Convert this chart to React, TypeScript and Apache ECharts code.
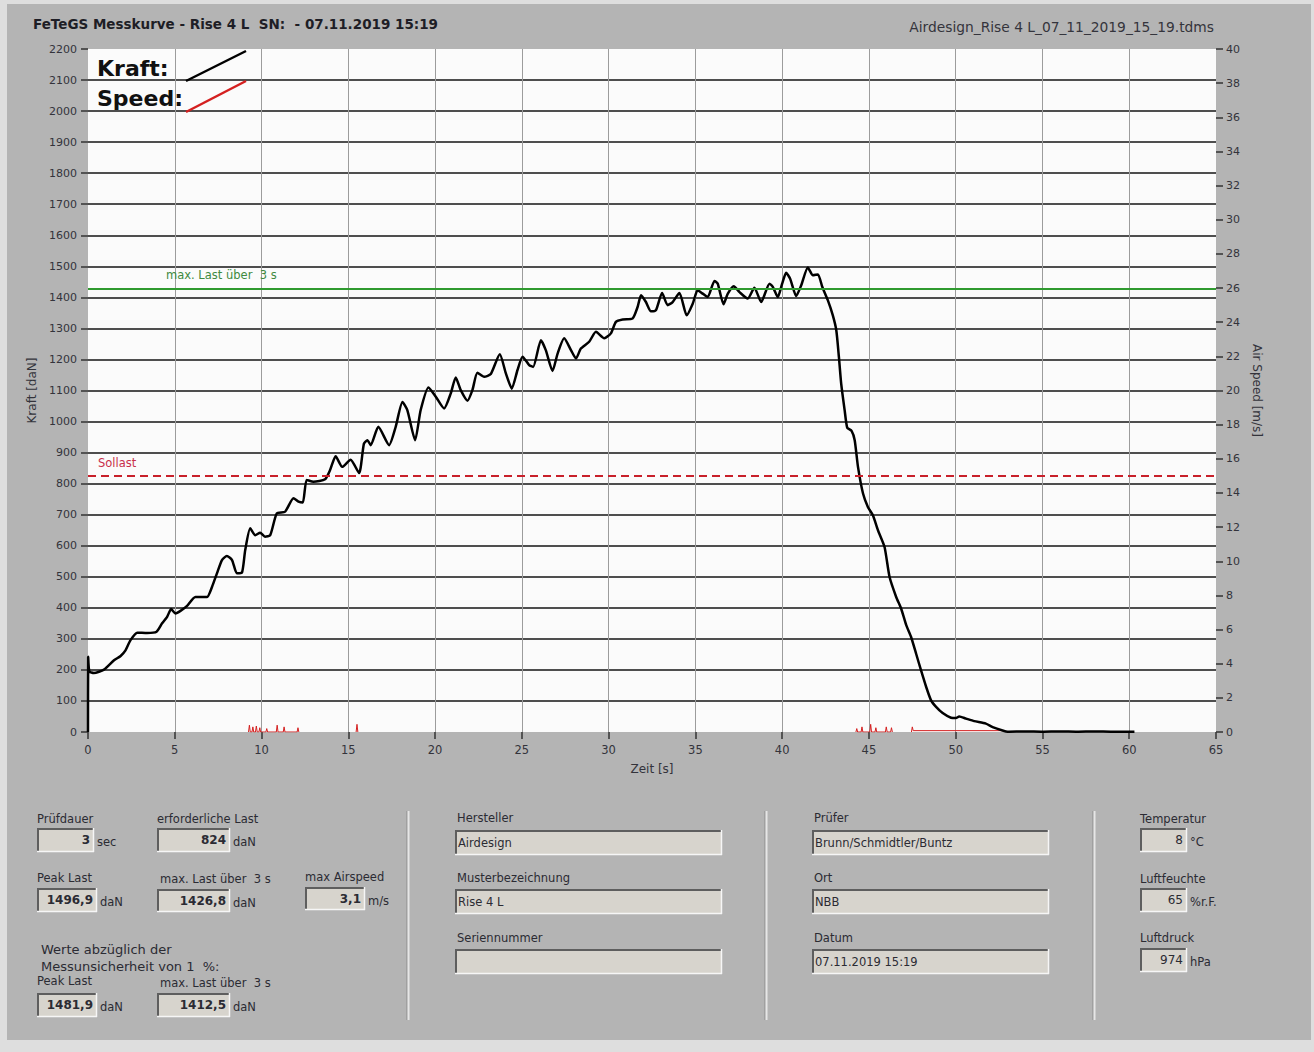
import React, { useEffect, useRef } from "react";
import * as echarts from "echarts";

// ---- Data ----
const kraftTime = [
  0, 0.01, 0.08, 0.34, 0.92, 1.5, 1.88, 2.16, 2.45, 2.84, 3.41, 3.95, 4.27, 4.56, 4.79, 5.04, 5.33, 5.71,
  6.19, 6.86, 7.15, 7.43, 7.72, 8.0, 8.3, 8.58, 8.87, 9.06, 9.35, 9.64, 9.92, 10.2, 10.5, 10.88, 11.36,
  11.84, 12.13, 12.38, 12.6, 12.99, 13.66, 13.95, 14.27, 14.65, 15.13, 15.62, 15.9, 16.1, 16.29, 16.73,
  17.35, 17.73, 18.12, 18.4, 18.85, 19.17, 19.62, 20.04, 20.52, 20.9, 21.19, 21.48, 21.87, 22.15, 22.44,
  22.83, 23.21, 23.73, 24.08, 24.42, 24.75, 25.04, 25.42, 25.65, 26.1, 26.38, 26.77, 27.06, 27.44, 27.83,
  28.12, 28.4, 28.88, 29.27, 29.75, 30.13, 30.42, 30.81, 31.38, 31.67, 31.87, 32.15, 32.44, 32.73, 33.08,
  33.4, 33.69, 34.08, 34.5, 34.85, 35.13, 35.42, 35.71, 36.1, 36.29, 36.62, 36.87, 37.21, 37.54, 38.02,
  38.4, 38.79, 39.27, 39.46, 39.75, 40.0, 40.23, 40.46, 40.81, 41.1, 41.48, 41.77, 42.06, 42.31, 42.63,
  42.92, 43.12, 43.27, 43.4, 43.6, 43.75, 44.0, 44.18, 44.37, 44.66, 44.94, 45.23, 45.52, 45.9, 46.19,
  46.57, 46.86, 47.15, 47.43, 47.72, 48.0, 48.3, 48.58, 48.87, 49.25, 49.73, 50.02, 50.2, 50.6, 51.07,
  51.74, 52.13, 52.7, 53.0, 54.0, 55.0, 56.0, 57.0, 58.0, 59.0, 60.3,
];
const kraftValue = [
  0, 242, 195, 190, 201, 231, 245, 263, 296, 320, 319, 323, 350, 371, 396, 382, 390, 406,
  435, 435, 468, 511, 554, 567, 554, 511, 513, 586, 656, 634, 642, 629, 634, 704, 710,
  753, 742, 739, 812, 806, 814, 844, 888, 854, 877, 834, 929, 940, 924, 983,
  924, 983, 1063, 1037, 940, 1037, 1110, 1080, 1042, 1090, 1142, 1101, 1067, 1101, 1157,
  1144, 1153, 1217, 1155, 1106, 1166, 1209, 1182, 1176, 1262, 1230, 1163, 1219, 1268, 1230,
  1203, 1235, 1257, 1289, 1268, 1284, 1321, 1329, 1332, 1369, 1407, 1385, 1355, 1359, 1414,
  1375, 1385, 1414, 1342, 1380, 1423, 1412, 1401, 1453, 1444, 1378, 1412, 1436, 1417, 1396,
  1431, 1385, 1444, 1434, 1401, 1444, 1479, 1460, 1404, 1439, 1496, 1471, 1474, 1434, 1391,
  1342, 1294, 1208, 1123, 1037, 980, 970, 940, 854, 768, 725, 698, 650, 596, 499,
  435, 397, 344, 306, 252, 199, 145, 102, 81, 61, 46, 45, 50, 43, 35,
  27, 16, 5, 1, 2, 1, 2, 1, 2, 1, 1,
];

// Air speed: only small spikes near zero; null = no trace drawn
const speedTime = [
  9.25, 9.3, 9.35, 9.45, 9.5, 9.55, 9.65, 9.7, 9.75, 9.85, 9.9, 9.95, 10.25, 10.3, 10.35, 10.85, 10.9,
  10.95, 11.25, 11.3, 11.35, 12.05, 12.1, 12.15, 12.2, 15.45, 15.5, 15.55, 15.6, 44.25, 44.3, 44.35,
  44.55, 44.6, 44.65, 45.05, 45.1, 45.15, 45.35, 45.4, 45.45, 45.95, 46.0, 46.05, 46.25, 46.3, 46.35,
  46.4, 47.45, 47.5, 47.55, 52.7, 52.75,
];
const speedValue = [
  0, 0.4, 0, 0, 0.3, 0, 0, 0.35, 0, 0, 0.25, 0, 0, 0.2, 0, 0, 0.4,
  0, 0, 0.3, 0, 0, 0.25, 0, null, 0, 0.45, 0, null, 0, 0.2, 0,
  0, 0.3, 0, 0, 0.45, 0, 0, 0.25, 0, 0, 0.3, 0, 0, 0.25, 0,
  null, 0, 0.3, 0.08, 0.08, null,
];

const sollLast = 824;
const maxLast3s = 1426.8;

const kraftTicks = { min: 0, max: 2200, interval: 100 };
const speedTicks = { min: 0, max: 40, interval: 2 };
const timeTicks = { min: 0, max: 65, interval: 5 };

const titleText = "FeTeGS Messkurve - Rise 4 L  SN:  - 07.11.2019 15:19";
const fileText = "Airdesign_Rise 4 L_07_11_2019_15_19.tdms";

const FONT = '"DejaVu Sans"';
const TXT = "#2b2b33";

function txt(x: number, y: number, text: string, size = 11.5, opts: any = {}) {
  return {
    type: "text",
    x,
    y,
    silent: true,
    style: {
      text,
      fill: opts.fill || TXT,
      font: `${opts.bold ? "bold " : ""}${size}px ${FONT}`,
      textAlign: opts.align || "left",
      textVerticalAlign: "middle",
    },
  };
}

function box(x: number, y: number, w: number, h: number) {
  return {
    type: "group",
    silent: true,
    children: [
      { type: "rect", shape: { x, y, width: w, height: h }, style: { fill: "#d7d4cd" } },
      { type: "line", shape: { x1: x, y1: y + 1, x2: x + w, y2: y + 1 }, style: { stroke: "#5e5e5e", lineWidth: 2 } },
      { type: "line", shape: { x1: x + 1, y1: y, x2: x + 1, y2: y + h }, style: { stroke: "#5e5e5e", lineWidth: 2 } },
      { type: "line", shape: { x1: x, y1: y + h - 0.5, x2: x + w, y2: y + h - 0.5 }, style: { stroke: "#f6f6f6", lineWidth: 1.5 } },
      { type: "line", shape: { x1: x + w - 0.5, y1: y, x2: x + w - 0.5, y2: y + h }, style: { stroke: "#f6f6f6", lineWidth: 1.5 } },
    ],
  };
}

function sep(x: number) {
  return {
    type: "group",
    silent: true,
    children: [
      { type: "line", shape: { x1: x - 1, y1: 811, x2: x - 1, y2: 1020 }, style: { stroke: "#8c8c8c", lineWidth: 1 } },
      { type: "line", shape: { x1: x + 0.5, y1: 811, x2: x + 0.5, y2: 1020 }, style: { stroke: "#e6e6e6", lineWidth: 2 } },
    ],
  };
}

function numField(label: string, lx: number, ly: number, bx: number, by: number, bw: number, bh: number, value: string, unit: string, bold: boolean) {
  return [
    txt(lx, ly, label),
    box(bx, by, bw, bh),
    txt(bx + bw - 4, by + bh / 2, value, 12, { bold, align: "right" }),
    txt(bx + bw + 3, by + bh / 2 + 2, unit, 11.5),
  ];
}

function textField(label: string, x: number, ly: number, by: number, w: number, value: string) {
  return [txt(x + 2, ly, label), box(x, by, w, 25), txt(x + 3, by + 13, value, 11.5)];
}

export default function App() {
  const ref = useRef<HTMLDivElement>(null);

  useEffect(() => {
    if (!ref.current) return;
    const chart = echarts.init(ref.current, null, { renderer: "svg" });

    const kraftData = kraftTime.map((t, i) => [t, kraftValue[i]]);
    const speedData = speedTime.map((t, i) => [t, speedValue[i] === null ? "-" : speedValue[i]]);

    const graphic: any[] = [
      { type: "rect", z: -10, silent: true, shape: { x: 7, y: 4, width: 1304, height: 1036 }, style: { fill: "#b4b4b4" } },
      txt(33, 24, titleText, 13.5, { bold: true, fill: "#1e1e26" }),
      txt(1214, 27, fileText, 13.8, { align: "right", fill: "#34343c" }),
      // legend
      txt(97, 68, "Kraft:", 22, { bold: true, fill: "#111" }),
      txt(97, 98, "Speed:", 22, { bold: true, fill: "#111" }),
      { type: "line", silent: true, z: 10, shape: { x1: 186, y1: 81, x2: 246, y2: 51 }, style: { stroke: "#000", lineWidth: 2.5 } },
      { type: "line", silent: true, z: 10, shape: { x1: 186, y1: 112, x2: 246, y2: 81 }, style: { stroke: "#d42020", lineWidth: 2.5 } },
      sep(408),
      sep(766),
      sep(1094),
      ...numField("Prüfdauer", 37, 819, 37, 828, 57, 24, "3", "sec", true),
      ...numField("erforderliche Last", 157, 819, 157, 828, 73, 24, "824", "daN", true),
      ...numField("Peak Last", 37, 878, 37, 888, 60, 24, "1496,9", "daN", true),
      ...numField("max. Last über  3 s", 160, 879, 157, 889, 73, 23, "1426,8", "daN", true),
      ...numField("max Airspeed", 305, 877, 305, 887, 60, 23, "3,1", "m/s", true),
      txt(41, 949, "Werte abzüglich der", 13),
      txt(41, 966, "Messunsicherheit von 1  %:", 13),
      ...numField("Peak Last", 37, 981, 37, 993, 60, 24, "1481,9", "daN", true),
      ...numField("max. Last über  3 s", 160, 983, 157, 993, 73, 24, "1412,5", "daN", true),
      ...textField("Hersteller", 455, 818, 830, 267, "Airdesign"),
      ...textField("Musterbezeichnung", 455, 878, 889, 267, "Rise 4 L"),
      ...textField("Seriennummer", 455, 938, 949, 267, ""),
      ...textField("Prüfer", 812, 818, 830, 237, "Brunn/Schmidtler/Buntz"),
      ...textField("Ort", 812, 878, 889, 237, "NBB"),
      ...textField("Datum", 812, 938, 949, 237, "07.11.2019 15:19"),
      ...numField("Temperatur", 1140, 819, 1140, 828, 47, 24, "8", "°C", false),
      ...numField("Luftfeuchte", 1140, 879, 1140, 888, 47, 24, "65", "%r.F.", false),
      ...numField("Luftdruck", 1140, 938, 1140, 948, 47, 24, "974", "hPa", false),
    ];

    const axisText = { color: "#33333b", fontFamily: FONT, fontSize: 11 };
    const plain = (v: number) => String(v);

    chart.setOption({
      animation: false,
      backgroundColor: "#dedede",
      textStyle: { fontFamily: FONT },
      graphic,
      grid: {
        left: 88,
        right: 98,
        top: 49,
        bottom: 320,
        show: true,
        backgroundColor: "#fbfbfb",
        borderWidth: 0,
      },
      xAxis: {
        type: "value",
        ...timeTicks,
        name: "Zeit [s]",
        nameLocation: "middle",
        nameGap: 31,
        nameTextStyle: { ...axisText, fontSize: 12 },
        axisLine: { show: false },
        axisTick: { show: true, length: 7, lineStyle: { color: "#333", width: 1.5 } },
        axisLabel: { ...axisText, fontSize: 11.5, margin: 12, formatter: plain },
        splitLine: { show: true, showMinLine: false, showMaxLine: false, lineStyle: { color: "#9c9c9c", width: 1 } },
      },
      yAxis: [
        {
          type: "value",
          position: "left",
          ...kraftTicks,
          name: "Kraft [daN]",
          nameLocation: "middle",
          nameGap: 47,
          nameTextStyle: { ...axisText, fontSize: 12 },
          axisLine: { show: false },
          axisTick: { show: true, length: 7, lineStyle: { color: "#333", width: 1.5 } },
          axisLabel: { ...axisText, margin: 11, formatter: plain },
          splitLine: { show: true, showMinLine: false, showMaxLine: false, lineStyle: { color: "#151515", width: 1.5 } },
        },
        {
          type: "value",
          position: "right",
          ...speedTicks,
          name: "Air Speed [m/s]",
          nameLocation: "middle",
          nameGap: 34,
          nameRotate: -90,
          nameTextStyle: { ...axisText, fontSize: 12 },
          axisLine: { show: false },
          axisTick: { show: true, length: 7, lineStyle: { color: "#333", width: 1.5 } },
          axisLabel: { ...axisText, margin: 10, formatter: plain },
          splitLine: { show: false },
        },
      ],
      series: [
        {
          type: "line",
          name: "Speed",
          yAxisIndex: 1,
          data: speedData,
          showSymbol: false,
          connectNulls: false,
          lineStyle: { color: "#d42020", width: 1 },
          itemStyle: { color: "#d42020" },
          z: 2,
        },
        {
          type: "line",
          name: "Kraft",
          yAxisIndex: 0,
          data: kraftData,
          showSymbol: false,
          smooth: 0.2,
          lineStyle: { color: "#000", width: 2.5 },
          itemStyle: { color: "#000" },
          z: 4,
          markLine: {
            silent: true,
            symbol: "none",
            animation: false,
            data: [
              {
                yAxis: maxLast3s,
                lineStyle: { color: "#2f9a2f", width: 2, type: "solid" },
                label: {
                  show: true,
                  formatter: "max. Last über  3 s",
                  position: "insideStartTop",
                  color: "#3f8a3f",
                  fontFamily: FONT,
                  fontSize: 11.5,
                  distance: 8,
                  padding: [0, 0, 0, 70],
                },
              },
              {
                yAxis: sollLast,
                lineStyle: { color: "#c8202a", width: 2, type: [8, 5] },
                label: {
                  show: true,
                  formatter: "Sollast",
                  position: "insideStartTop",
                  color: "#c8304a",
                  fontFamily: FONT,
                  fontSize: 11.5,
                  distance: 7,
                  padding: [0, 0, 0, 3],
                },
              },
            ],
          },
        },
      ],
    });

    return () => chart.dispose();
  }, []);

  return (
    <div
      ref={ref}
      style={{ position: "absolute", left: 0, top: 0, width: 1314, height: 1052 }}
    />
  );
}
